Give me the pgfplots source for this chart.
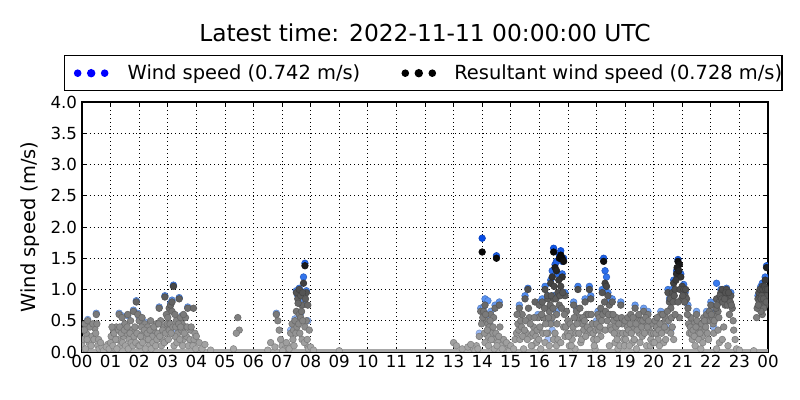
\documentclass[border=0pt]{standalone}
\usepackage{fontspec}
\setmainfont{DejaVu Sans}
\usepackage{pgfplots}
\pgfplotsset{compat=1.18}

% colour of a point follows its value, as in the original
\pgfplotsset{
  colormap={resgray}{gray(0cm)=(0.67); gray(5cm)=(0.52); gray(10cm)=(0.31); gray(15cm)=(0.04); gray(18cm)=(0)},
  colormap={windblue}{rgb255(0cm)=(185,205,255); rgb255(6cm)=(125,170,245); rgb255(10cm)=(65,130,240); rgb255(18cm)=(5,75,230)},
}

\begin{document}
\begin{tikzpicture}
\useasboundingbox (-59.04pt,-34.56pt) rectangle (516.96pt,253.44pt);
\begin{axis}[
    width=493.92pt, height=180pt, scale only axis,
    xmin=0, xmax=24, ymin=0, ymax=4,
    xtick={0,1,...,24},
    xticklabels={00,01,02,03,04,05,06,07,08,09,10,11,12,13,14,15,16,17,18,19,20,21,22,23,00},
    ytick={0,0.5,...,4},
    yticklabels={0.0,0.5,1.0,1.5,2.0,2.5,3.0,3.5,4.0},
    /pgf/number format/assume math mode=true,
    tick label style={font=\fontsize{12}{14}\selectfont},
    xticklabel style={font=\fontsize{12}{14}\selectfont, yshift=1.2pt},
    ylabel={Wind speed (m/s)},
    ylabel style={font=\fontsize{14}{16}\selectfont, at={(axis description cs:-0.0671,0.5)}, anchor=base},
    grid=major,
    grid style={black, line width=0.5pt, dash pattern=on 0.6pt off 2.2pt},
    axis line style={line width=1pt},
    major tick length=3.5pt,
    tick style={black, line width=0.5pt},
    point meta min=0, point meta max=1.8,
    clip marker paths=true,
    legend columns=2,
    legend cell align=left,
    legend style={at={(-0.02624,1.188)}, anchor=north west, draw=black, line width=1pt,
      inner sep=0pt, column sep=0pt,
      nodes={inner sep=0pt, text height=16.8pt, text depth=8.4pt, font=\fontsize{14}{16}\selectfont}},
]

% wind speed
\addplot[scatter, only marks, scatter src=y, mark=*, mark size=2.4pt, colormap name=windblue,
  legend image code/.code={\path[draw=none] (0pt,-4pt) rectangle (45.36pt,4pt);
    \fill[blue] (9.36pt,0pt) circle (2.2pt); \fill[blue] (19.08pt,0pt) circle (2.5pt); \fill[blue] (28.8pt,0pt) circle (2.2pt);}]
coordinates {
(0.2,0.52) (0.5,0.62) (1.3,0.62) (1.4,0.58) (1.45,0.42) (1.6,0.58) (1.8,0.67) (1.9,0.82)
(1.95,0.62) (2.0,0.55) (2.2,0.48) (2.7,0.72) (2.9,0.9) (3.1,0.78) (3.15,0.83) (3.2,1.07)
(3.4,0.87) (3.7,0.72) (3.5,0.58) (1.5,0.3) (2.4,0.3) (3.3,0.35)
(7.5,0.98) (7.55,0.9) (7.6,1.02) (7.7,0.8) (7.75,1.2) (7.8,1.42) (7.85,0.98) (7.65,0.62)
(7.45,0.53) (7.9,0.5) (7.3,0.35) (6.8,0.62)
(13.9,0.3) (13.95,0.7) (14.0,1.82) (14.05,0.72) (14.1,0.85) (14.2,0.82) (14.3,0.65) (14.45,0.75)
(14.5,1.54) (14.6,0.8) (14.25,0.45) (14.4,0.25) (14.15,0.55)
(15.3,0.75) (15.5,0.9) (15.6,1.02) (15.95,0.6) (16.0,0.8) (16.1,0.85) (16.2,1.05) (16.3,0.9)
(16.4,1.15) (16.45,1.3) (16.5,1.66) (16.55,1.4) (16.6,1.45) (16.65,1.25) (16.7,1.55) (16.75,1.62)
(16.8,1.45) (16.85,1.5) (16.8,1.25) (16.9,0.95) (16.5,0.9) (16.6,0.65) (16.4,0.5) (16.45,0.35) (16.3,0.2)
(17.2,0.8) (17.35,1.05) (17.6,0.85) (17.75,1.05) (17.8,0.9) (17.3,0.7) (18.05,0.65) (18.2,1.0)
(18.25,1.5) (18.3,1.3) (18.35,1.2) (18.4,0.95) (18.45,0.8) (18.55,0.85) (18.85,0.8) (18.1,0.6) (18.0,0.5)
(19.35,0.75) (19.65,0.7) (19.8,0.65) (20.25,0.65) (20.5,1.0) (20.55,0.85) (20.65,1.0) (20.7,1.15)
(20.8,1.3) (20.85,1.48) (20.95,1.25) (21.05,1.08) (21.1,0.95) (20.45,0.4) (20.1,0.45) (20.6,0.35)
(21.2,0.75) (21.5,0.65) (21.85,0.65) (22.0,0.8) (22.2,1.1) (22.15,0.65) (22.35,1.0) (22.55,1.02)
(22.7,0.95) (22.45,0.95) (22.1,0.4) (23.65,0.9) (23.75,1.05) (23.8,1.1) (23.9,1.2) (23.95,1.38)
(23.85,1.0) (23.7,0.85)
};
\addlegendentry{Wind speed (0.742 m/s)}

% calm periods: values at zero form a band along the bottom
\addplot[forget plot, color={rgb,255:red,168;green,168;blue,168}, line width=4.4pt]
coordinates {(0,0) (24,0)};

% resultant wind speed
\addplot[scatter, only marks, scatter src=y, mark=*, mark size=2.4pt, colormap name=resgray,
  legend image code/.code={\path[draw=none] (0pt,-4pt) rectangle (67.7pt,4pt);
    \fill[black] (32.4pt,0pt) circle (2.2pt); \fill[black] (42.12pt,0pt) circle (2.5pt); \fill[black] (51.84pt,0pt) circle (2.2pt);}]
coordinates {
(0.1,0.45) (0.2,0.5) (0.3,0.42) (0.4,0.4) (0.5,0.6) (0.45,0.38) (0.35,0.25) (0.25,0.15)
(0.15,0.3) (0.55,0.1) (0.05,0.2) (0.6,0.05) (0.7,0.08) (0.8,0.03) (0.9,0.12)
(0.0,0.1) (0.08,0.35) (0.12,0.05) (0.18,0.2) (0.28,0.4) (0.32,0.1) (0.38,0.45) (0.42,0.2)
(0.48,0.3) (0.52,0.45) (0.58,0.2) (0.65,0.15) (0.75,0.02) (0.85,0.08) (0.95,0.05)
(1.1,0.35) (1.2,0.4) (1.25,0.2) (1.3,0.6) (1.4,0.55) (1.5,0.45) (1.6,0.6) (1.7,0.5)
(1.8,0.65) (1.9,0.8) (1.95,0.6) (1.0,0.15) (1.15,0.05) (1.45,0.25) (1.55,0.3) (1.65,0.2)
(1.75,0.35) (1.85,0.4) (1.35,0.1) (1.05,0.4)
(1.02,0.25) (1.08,0.1) (1.12,0.3) (1.18,0.2) (1.22,0.05) (1.28,0.35) (1.32,0.4) (1.38,0.3)
(1.42,0.15) (1.48,0.35) (1.52,0.1) (1.58,0.4) (1.62,0.05) (1.68,0.3) (1.72,0.15) (1.78,0.1)
(1.82,0.25) (1.88,0.15) (1.92,0.3) (1.98,0.1)
(2.0,0.5) (2.1,0.55) (2.2,0.45) (2.3,0.4) (2.4,0.5) (2.5,0.35) (2.6,0.45) (2.7,0.7)
(2.75,0.5) (2.85,0.4) (2.9,0.88) (2.95,0.6) (2.15,0.3) (2.25,0.2) (2.35,0.1) (2.45,0.25)
(2.55,0.15) (2.65,0.3) (2.8,0.2) (2.05,0.25)
(2.02,0.1) (2.08,0.4) (2.12,0.15) (2.18,0.35) (2.22,0.05) (2.28,0.3) (2.32,0.2) (2.38,0.35)
(2.42,0.05) (2.48,0.15) (2.52,0.4) (2.58,0.1) (2.62,0.2) (2.68,0.45) (2.72,0.25) (2.78,0.1)
(2.82,0.35) (2.88,0.15) (2.92,0.3) (2.98,0.45)
(3.0,0.55) (3.05,0.7) (3.1,0.75) (3.15,0.8) (3.2,1.05) (3.15,0.65) (3.25,0.6) (3.3,0.5)
(3.4,0.85) (3.45,0.55) (3.5,0.45) (3.6,0.4) (3.7,0.7) (3.8,0.35) (3.9,0.7) (3.95,0.3)
(3.35,0.3) (3.55,0.2) (3.65,0.25) (3.85,0.15) (3.05,0.35) (3.25,0.25)
(3.02,0.2) (3.08,0.45) (3.12,0.3) (3.18,0.4) (3.22,0.1) (3.28,0.4) (3.32,0.15) (3.38,0.45)
(3.42,0.2) (3.48,0.35) (3.52,0.1) (3.58,0.3) (3.62,0.55) (3.68,0.4) (3.72,0.1) (3.78,0.2)
(3.82,0.4) (3.88,0.1) (3.92,0.2) (3.98,0.05) (3.55,0.6) (3.45,0.4)
(4.0,0.25) (4.1,0.15) (4.2,0.05) (4.3,0.12) (4.5,0.03)
(5.45,0.55) (5.5,0.35) (5.4,0.3) (5.3,0.05)
(6.6,0.15) (6.8,0.6) (6.85,0.5) (6.9,0.35) (6.95,0.2) (6.75,0.08) (7.0,0.1) (6.5,0.03)
(7.1,0.05) (7.2,0.1) (7.3,0.3) (7.35,0.45) (7.4,0.35) (7.45,0.5) (7.5,0.65) (7.5,0.95)
(7.55,0.85) (7.6,1.0) (7.65,0.9) (7.7,0.75) (7.75,1.1) (7.8,1.38) (7.85,0.95) (7.9,0.75)
(7.85,0.5) (7.8,0.4) (7.95,0.35) (7.6,0.6) (7.7,0.2) (7.9,0.08) (7.65,0.55)
(7.02,0.02) (7.15,0.15) (7.25,0.05) (7.38,0.2) (7.42,0.1) (7.48,0.3) (7.52,0.4) (7.58,0.45)
(7.62,0.3) (7.68,0.65) (7.72,0.5) (7.78,0.15) (7.82,0.85) (7.88,0.2) (7.92,0.05) (7.56,0.78) (7.72,0.95)
(8.0,0.08) (8.1,0.03) (9.0,0.02)
(13.0,0.15) (13.1,0.1) (13.3,0.05) (13.5,0.08) (13.8,0.1) (13.9,0.25) (13.95,0.65) (13.7,0.05)
(13.6,0.12) (13.75,0.02) (13.85,0.05) (13.98,0.45)
(14.0,1.6) (14.05,0.65) (14.1,0.75) (14.15,0.5) (14.2,0.45) (14.3,0.6) (14.4,0.55) (14.5,1.5)
(14.45,0.7) (14.6,0.75) (14.25,0.4) (14.35,0.3) (14.2,0.25) (14.4,0.2) (14.55,0.15) (14.65,0.1)
(14.75,0.2) (14.8,0.05) (14.9,0.12) (14.1,0.15)
(14.02,0.55) (14.08,0.3) (14.12,0.6) (14.18,0.35) (14.22,0.1) (14.28,0.5) (14.32,0.2) (14.38,0.4)
(14.42,0.05) (14.48,0.3) (14.52,0.1) (14.58,0.25) (14.62,0.4) (14.7,0.05) (14.85,0.15) (14.95,0.02)
(15.0,0.1) (15.2,0.3) (15.25,0.45) (15.3,0.7) (15.4,0.6) (15.35,0.5) (15.5,0.85) (15.6,1.0)
(15.55,0.3) (15.65,0.55) (15.7,0.25) (15.8,0.4) (15.9,0.15) (15.1,0.05) (15.45,0.05) (15.75,0.1)
(15.95,0.55) (15.85,0.8)
(15.15,0.2) (15.22,0.6) (15.28,0.35) (15.32,0.2) (15.38,0.4) (15.42,0.25) (15.48,0.35) (15.52,0.5)
(15.58,0.2) (15.62,0.7) (15.68,0.45) (15.72,0.1) (15.78,0.3) (15.82,0.55) (15.88,0.25) (15.92,0.35) (15.98,0.2)
(16.0,0.75) (16.1,0.8) (16.15,0.55) (16.2,1.0) (16.3,0.85) (16.35,0.65) (16.4,1.1) (16.45,1.2)
(16.5,1.6) (16.55,1.35) (16.6,1.3) (16.7,1.5) (16.75,1.55) (16.8,1.5) (16.85,1.45) (16.8,1.2)
(16.75,1.05) (16.65,0.95) (16.7,0.75) (16.6,0.6) (16.5,0.85) (16.9,0.9) (16.95,0.65) (16.3,0.3)
(16.4,0.45) (16.5,0.2) (16.6,0.1) (16.9,0.25) (16.2,0.15) (16.05,0.05) (16.85,0.4) (16.45,0.55)
(16.02,0.4) (16.08,0.6) (16.12,0.3) (16.18,0.7) (16.22,0.45) (16.28,0.9) (16.32,0.55) (16.38,0.75)
(16.42,0.9) (16.48,0.7) (16.52,1.05) (16.58,0.85) (16.62,0.45) (16.68,1.15) (16.72,0.9) (16.78,0.7)
(16.82,0.95) (16.88,0.6) (16.92,0.4) (16.98,0.3) (16.55,0.3) (16.65,0.2) (16.75,0.15) (16.35,0.1) (16.25,0.3)
(17.0,0.5) (17.1,0.3) (17.15,0.2) (17.2,0.75) (17.3,0.65) (17.35,1.0) (17.4,0.55) (17.5,0.45)
(17.55,0.35) (17.6,0.8) (17.65,0.6) (17.7,0.3) (17.75,1.0) (17.8,0.85) (17.9,0.2) (17.95,0.05)
(17.25,0.05) (17.45,0.15) (17.05,0.1) (17.85,0.45)
(17.02,0.25) (17.08,0.45) (17.12,0.1) (17.18,0.4) (17.22,0.55) (17.28,0.3) (17.32,0.45) (17.38,0.3)
(17.42,0.7) (17.48,0.2) (17.52,0.55) (17.58,0.5) (17.62,0.25) (17.68,0.4) (17.72,0.6) (17.78,0.35)
(17.82,0.6) (17.88,0.3) (17.92,0.1) (17.98,0.35)
(18.0,0.45) (18.05,0.6) (18.1,0.55) (18.15,0.7) (18.2,0.95) (18.25,1.45) (18.3,1.1) (18.35,1.05)
(18.4,0.9) (18.45,0.75) (18.5,0.6) (18.55,0.8) (18.6,0.5) (18.7,0.55) (18.8,0.3) (18.85,0.75)
(18.9,0.45) (18.95,0.2) (18.3,0.35) (18.45,0.1) (18.65,0.15) (18.15,0.25) (18.75,0.05)
(18.02,0.2) (18.08,0.35) (18.12,0.4) (18.18,0.5) (18.22,0.6) (18.28,0.8) (18.32,0.65) (18.38,0.5)
(18.42,0.6) (18.48,0.4) (18.52,0.35) (18.58,0.6) (18.62,0.3) (18.68,0.4) (18.72,0.2) (18.78,0.45)
(18.82,0.1) (18.88,0.55) (18.92,0.3) (18.98,0.1)
(19.0,0.5) (19.1,0.55) (19.2,0.6) (19.3,0.4) (19.35,0.7) (19.45,0.55) (19.5,0.3) (19.55,0.5)
(19.65,0.65) (19.7,0.45) (19.8,0.6) (19.85,0.35) (19.9,0.2) (19.95,0.45) (19.25,0.15) (19.4,0.05)
(19.6,0.25) (19.75,0.1) (19.05,0.3) (19.15,0.1)
(19.02,0.2) (19.08,0.4) (19.12,0.35) (19.18,0.45) (19.22,0.3) (19.28,0.55) (19.32,0.2) (19.38,0.45)
(19.42,0.35) (19.48,0.6) (19.52,0.15) (19.58,0.4) (19.62,0.5) (19.68,0.3) (19.72,0.55) (19.78,0.4)
(19.82,0.5) (19.88,0.1) (19.92,0.3) (19.98,0.15)
(20.0,0.3) (20.05,0.5) (20.1,0.4) (20.15,0.2) (20.25,0.6) (20.3,0.45) (20.4,0.55) (20.45,0.35)
(20.5,0.95) (20.55,0.8) (20.6,0.7) (20.65,0.95) (20.7,1.1) (20.75,1.0) (20.8,1.25) (20.85,1.45)
(20.9,1.4) (20.95,1.2) (21.0,1.05) (20.35,0.15) (20.2,0.1) (20.6,0.3) (20.7,0.2) (20.9,0.55)
(20.02,0.15) (20.08,0.3) (20.12,0.55) (20.18,0.35) (20.22,0.45) (20.28,0.3) (20.32,0.6) (20.38,0.4)
(20.42,0.2) (20.48,0.65) (20.52,0.5) (20.58,0.85) (20.62,0.55) (20.68,0.8) (20.72,0.9) (20.78,1.15)
(20.82,1.35) (20.88,1.3) (20.92,1.0) (20.98,0.85) (20.65,0.4) (20.75,0.6) (20.85,0.8)
(21.05,1.0) (21.1,0.9) (21.15,0.85) (21.2,0.7) (21.3,0.55) (21.4,0.45) (21.5,0.6) (21.55,0.3)
(21.6,0.4) (21.7,0.25) (21.75,0.55) (21.8,0.35) (21.85,0.6) (21.9,0.5) (21.95,0.65) (21.35,0.2)
(21.45,0.1) (21.65,0.05) (21.25,0.3)
(21.02,0.9) (21.08,0.8) (21.12,1.0) (21.18,0.6) (21.22,0.45) (21.28,0.4) (21.32,0.3) (21.38,0.35)
(21.42,0.25) (21.48,0.4) (21.52,0.5) (21.58,0.2) (21.62,0.3) (21.68,0.45) (21.72,0.15) (21.78,0.5)
(21.82,0.4) (21.88,0.3) (21.92,0.2) (21.98,0.5)
(22.0,0.75) (22.05,0.55) (22.1,0.3) (22.15,0.6) (22.2,0.85) (22.25,0.65) (22.3,0.8) (22.35,0.95)
(22.4,1.0) (22.45,0.9) (22.5,0.75) (22.55,1.0) (22.6,0.85) (22.65,0.6) (22.7,0.9) (22.75,0.7)
(22.8,0.35) (22.3,0.15) (22.45,0.4) (22.6,0.1) (22.2,0.05)
(22.02,0.6) (22.08,0.45) (22.12,0.5) (22.18,0.7) (22.22,0.75) (22.28,0.55) (22.32,0.9) (22.38,0.85)
(22.42,0.8) (22.48,0.85) (22.52,0.95) (22.58,0.75) (22.62,0.95) (22.68,0.8) (22.72,0.75) (22.78,0.5)
(22.85,0.2) (22.9,0.05) (22.25,0.35) (22.4,0.2)
(23.0,0.03) (23.5,0.02) (23.6,0.55) (23.65,0.85) (23.7,0.9) (23.75,1.0) (23.8,1.05) (23.85,0.95)
(23.9,1.15) (23.95,1.35) (23.9,0.75) (23.85,0.7) (23.8,0.6) (23.7,0.8) (23.75,0.65) (23.95,0.9)
(23.62,0.7) (23.68,0.95) (23.72,1.0) (23.78,0.9) (23.82,1.0) (23.88,1.05) (23.92,1.0) (23.98,1.0)
(23.66,0.75) (23.76,0.85) (23.84,0.85) (23.94,0.8)
};
\addlegendentry{Resultant wind speed (0.728 m/s)\hspace{5pt}}

\end{axis}
\node[anchor=base, font=\fontsize{16.8}{19}\selectfont] at (246.96pt,223.4pt) {Latest time: 2022-11-11 00:00:00 UTC};
\end{tikzpicture}
\end{document}
